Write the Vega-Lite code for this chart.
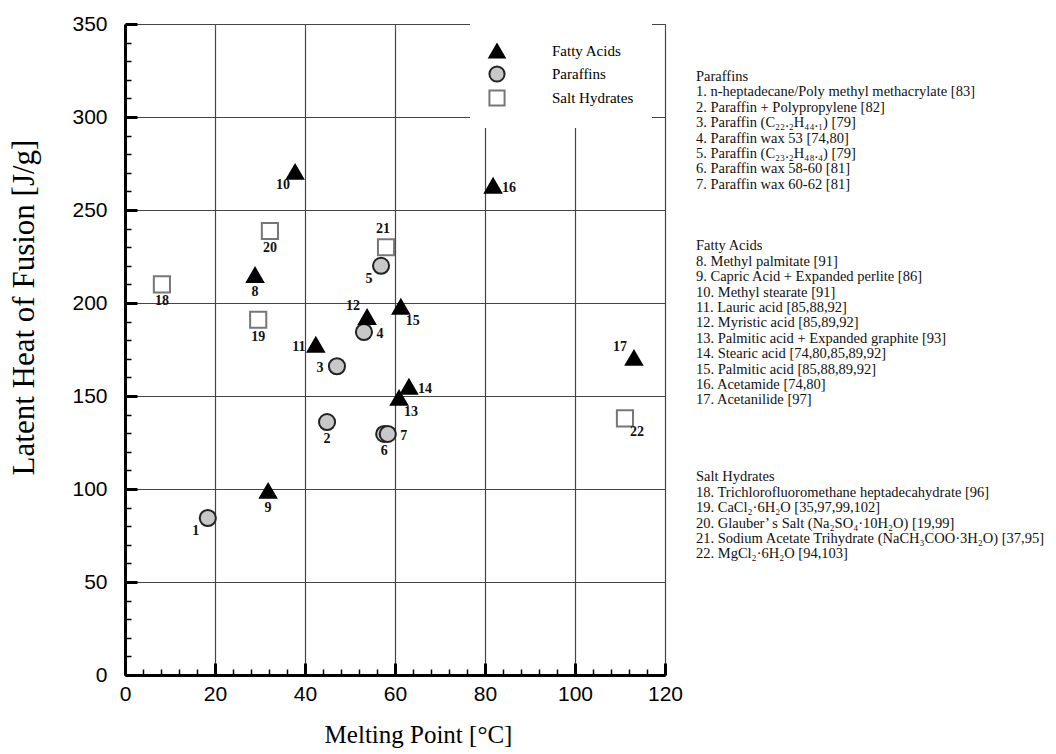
{
  "$schema": "https://vega.github.io/schema/vega-lite/v6.json",
  "padding": {"left": 8, "top": 12, "right": 0, "bottom": 0},
  "background": "white",
  "config": {"font": "Liberation Serif", "view": {"stroke": "#555", "strokeWidth": 1}},
  "datasets": {
    "pts": [
      {"id": "1", "group": "Paraffins", "mp": 18.4, "lh": 84.4, "pos": "bl"},
      {"id": "2", "group": "Paraffins", "mp": 44.9, "lh": 136, "pos": "b"},
      {"id": "3", "group": "Paraffins", "mp": 47.1, "lh": 166, "pos": "l"},
      {"id": "4", "group": "Paraffins", "mp": 53.1, "lh": 184.4, "pos": "r"},
      {"id": "5", "group": "Paraffins", "mp": 56.9, "lh": 220, "pos": "bl"},
      {"id": "6", "group": "Paraffins", "mp": 57.6, "lh": 129.6, "pos": "b"},
      {"id": "7", "group": "Paraffins", "mp": 58.4, "lh": 129.6, "pos": "r"},
      {"id": "8", "group": "Fatty Acids", "mp": 28.9, "lh": 215, "pos": "b"},
      {"id": "9", "group": "Fatty Acids", "mp": 31.8, "lh": 99, "pos": "b"},
      {"id": "10", "group": "Fatty Acids", "mp": 37.8, "lh": 270.5, "pos": "bl"},
      {"id": "11", "group": "Fatty Acids", "mp": 42.4, "lh": 177.5, "pos": "l"},
      {"id": "12", "group": "Fatty Acids", "mp": 53.8, "lh": 192.5, "pos": "al"},
      {"id": "13", "group": "Fatty Acids", "mp": 60.9, "lh": 149, "pos": "br"},
      {"id": "14", "group": "Fatty Acids", "mp": 63.1, "lh": 155, "pos": "r"},
      {"id": "15", "group": "Fatty Acids", "mp": 61.3, "lh": 198, "pos": "br"},
      {"id": "16", "group": "Fatty Acids", "mp": 81.8, "lh": 263, "pos": "r"},
      {"id": "17", "group": "Fatty Acids", "mp": 113.1, "lh": 170.5, "pos": "al"},
      {"id": "18", "group": "Salt Hydrates", "mp": 8.2, "lh": 210, "pos": "b"},
      {"id": "19", "group": "Salt Hydrates", "mp": 29.6, "lh": 191, "pos": "b"},
      {"id": "20", "group": "Salt Hydrates", "mp": 32.2, "lh": 238.7, "pos": "b"},
      {"id": "21", "group": "Salt Hydrates", "mp": 58, "lh": 230, "pos": "a"},
      {"id": "22", "group": "Salt Hydrates", "mp": 111.1, "lh": 138, "pos": "br"}
    ],
    "notes": [
      {"line": 0, "txt": "Paraffins"},
      {"line": 1, "txt": "1. n-heptadecane/Poly methyl methacrylate [83]"},
      {"line": 2, "txt": "2. Paraffin + Polypropylene [82]"},
      {"line": 3, "txt": "3. Paraffin (C₂₂.₂H₄₄.₁) [79]"},
      {"line": 4, "txt": "4. Paraffin wax 53 [74,80]"},
      {"line": 5, "txt": "5. Paraffin (C₂₃.₂H₄₈.₄) [79]"},
      {"line": 6, "txt": "6. Paraffin wax 58-60 [81]"},
      {"line": 7, "txt": "7. Paraffin wax 60-62 [81]"},
      {"line": 11, "txt": "Fatty Acids"},
      {"line": 12, "txt": "8.  Methyl palmitate [91]"},
      {"line": 13, "txt": "9.  Capric Acid + Expanded perlite [86]"},
      {"line": 14, "txt": "10. Methyl stearate [91]"},
      {"line": 15, "txt": "11. Lauric acid [85,88,92]"},
      {"line": 16, "txt": "12. Myristic acid [85,89,92]"},
      {"line": 17, "txt": "13. Palmitic acid + Expanded graphite [93]"},
      {"line": 18, "txt": "14. Stearic acid [74,80,85,89,92]"},
      {"line": 19, "txt": "15. Palmitic acid [85,88,89,92]"},
      {"line": 20, "txt": "16. Acetamide [74,80]"},
      {"line": 21, "txt": "17. Acetanilide [97]"},
      {"line": 26, "txt": "Salt Hydrates"},
      {"line": 27, "txt": "18. Trichlorofluoromethane heptadecahydrate [96]"},
      {"line": 28, "txt": "19. CaCl₂·6H₂O [35,97,99,102]"},
      {"line": 29, "txt": "20. Glauber’ s Salt (Na₂SO₄·10H₂O) [19,99]"},
      {"line": 30, "txt": "21. Sodium Acetate Trihydrate (NaCH₃COO·3H₂O) [37,95]"},
      {"line": 31, "txt": "22. MgCl₂·6H₂O [94,103]"}
    ]
  },
  "hconcat": [
    {
      "width": 540,
      "height": 651,
      "data": {"name": "pts"},
      "resolve": {"axis": {"x": "independent", "y": "independent"}},
      "layer": [
        {
          "mark": {"type": "point", "filled": true, "opacity": 1},
          "encoding": {
            "x": {
              "field": "mp", "type": "quantitative",
              "scale": {"domain": [0, 120], "nice": false, "zero": false},
              "axis": {
                "orient": "bottom",
                "title": "Melting Point [°C]",
                "values": [0,4,8,12,16,20,24,28,32,36,40,44,48,52,56,60,64,68,72,76,80,84,88,92,96,100,104,108,112,116,120],
                "labelExpr": "datum.value % 20 === 0 ? datum.label : ''",
                "labelFont": "Liberation Sans", "labelFontSize": 21, "labelColor": "black",
                "labelPadding": 20, "labelFlush": false, "labelOverlap": false,
                "tickSize": {"condition": {"test": "datum.value % 20 === 0", "value": -12}, "value": -6},
                "tickWidth": {"condition": {"test": "datum.value % 20 === 0", "value": 3}, "value": 1.5},
                "tickColor": "black",
                "grid": true,
                "gridOpacity": {"condition": {"test": "datum.value % 20 === 0", "value": 1}, "value": 0},
                "gridColor": "#444", "gridWidth": 1.2,
                "domainColor": "black", "domainWidth": 3,
                "titleFont": "Liberation Serif", "titleFontSize": 25, "titleFontWeight": "normal", "titleColor": "black",
                "titlePadding": 12, "titleX": 293
              }
            },
            "y": {
              "field": "lh", "type": "quantitative",
              "scale": {"domain": [0, 350], "nice": false, "zero": false},
              "axis": {
                "orient": "left",
                "title": "Latent Heat of Fusion [J/g]",
                "values": [0,10,20,30,40,50,60,70,80,90,100,110,120,130,140,150,160,170,180,190,200,210,220,230,240,250,260,270,280,290,300,310,320,330,340,350],
                "labelExpr": "datum.value % 50 === 0 ? datum.label : ''",
                "labelFont": "Liberation Sans", "labelFontSize": 21, "labelColor": "black",
                "labelPadding": 30, "labelFlush": false, "labelOverlap": false,
                "tickSize": {"condition": {"test": "datum.value % 50 === 0", "value": -12}, "value": -6},
                "tickWidth": {"condition": {"test": "datum.value % 50 === 0", "value": 3}, "value": 1.5},
                "tickColor": "black",
                "grid": true,
                "gridOpacity": {"condition": {"test": "datum.value % 50 === 0", "value": 1}, "value": 0},
                "gridColor": "#444", "gridWidth": 1.2,
                "domainColor": "black", "domainWidth": 3,
                "titleFont": "Liberation Serif", "titleFontSize": 31, "titleFontWeight": "normal", "titleColor": "black",
                "titleY": 283, "titlePadding": 31
              }
            },
            "shape": {
              "field": "group", "type": "nominal",
              "scale": {"domain": ["Fatty Acids", "Paraffins", "Salt Hydrates"], "range": ["triangle-up", "circle", "square"]},
              "legend": {
                "orient": "none", "legendX": 345, "legendY": 0, "title": null,
                "fillColor": "white", "padding": 18, "labelOffset": 46, "rowPadding": 0,
                "symbolSize": 230, "symbolStrokeWidth": 2,
                "labelFont": "Liberation Serif", "labelFontSize": 15, "labelColor": "black",
                "labelLimit": 200, "offset": 0
              }
            },
            "fill": {
              "field": "group", "type": "nominal",
              "scale": {"domain": ["Fatty Acids", "Paraffins", "Salt Hydrates"], "range": ["#000000", "#c8c8c8", "#ffffff"]}
            },
            "stroke": {
              "field": "group", "type": "nominal",
              "scale": {"domain": ["Fatty Acids", "Paraffins", "Salt Hydrates"], "range": ["#000000", "#222222", "#777777"]}
            },
            "size": {"value": 260},
            "strokeWidth": {"value": 2}
          }
        },
        {
          "mark": {
            "type": "text", "font": "Liberation Serif", "fontSize": 14, "fontWeight": "bold", "color": "#111",
            "align": "center", "baseline": "middle",
            "dx": {"expr": "datum.pos == 'l' ? -17 : datum.pos == 'r' ? 16 : datum.pos == 'bl' ? -12 : datum.pos == 'br' ? 12 : datum.pos == 'al' ? -14 : datum.pos == 'a' ? -3 : 0"},
            "dy": {"expr": "datum.pos == 'b' ? 17 : (datum.pos == 'l' || datum.pos == 'r') ? 2 : datum.pos == 'bl' ? 13 : datum.pos == 'br' ? 14 : datum.pos == 'al' ? -11 : datum.pos == 'a' ? -18 : 0"}
          },
          "encoding": {
            "x": {
              "field": "mp", "type": "quantitative",
              "axis": {"orient": "top", "title": null, "labels": false, "values": [0,20,40,60,80,100,120], "tickSize": -6, "tickWidth": 1, "tickColor": "#555", "domain": false, "grid": false}
            },
            "y": {"field": "lh", "type": "quantitative", "axis": null},
            "text": {"field": "id"}
          }
        }
      ]
    },
    {
      "width": 375,
      "height": 651,
      "view": {"stroke": null},
      "data": {"name": "notes"},
      "mark": {"type": "text", "align": "left", "baseline": "middle", "font": "Liberation Serif", "fontSize": 14.5, "color": "#111"},
      "encoding": {
        "x": {"value": 0},
        "y": {"field": "line", "type": "quantitative", "scale": {"domain": [-3.44, 38.83], "reverse": true, "nice": false, "zero": false}, "axis": null},
        "text": {"field": "txt"}
      }
    }
  ],
  "spacing": 12
}
